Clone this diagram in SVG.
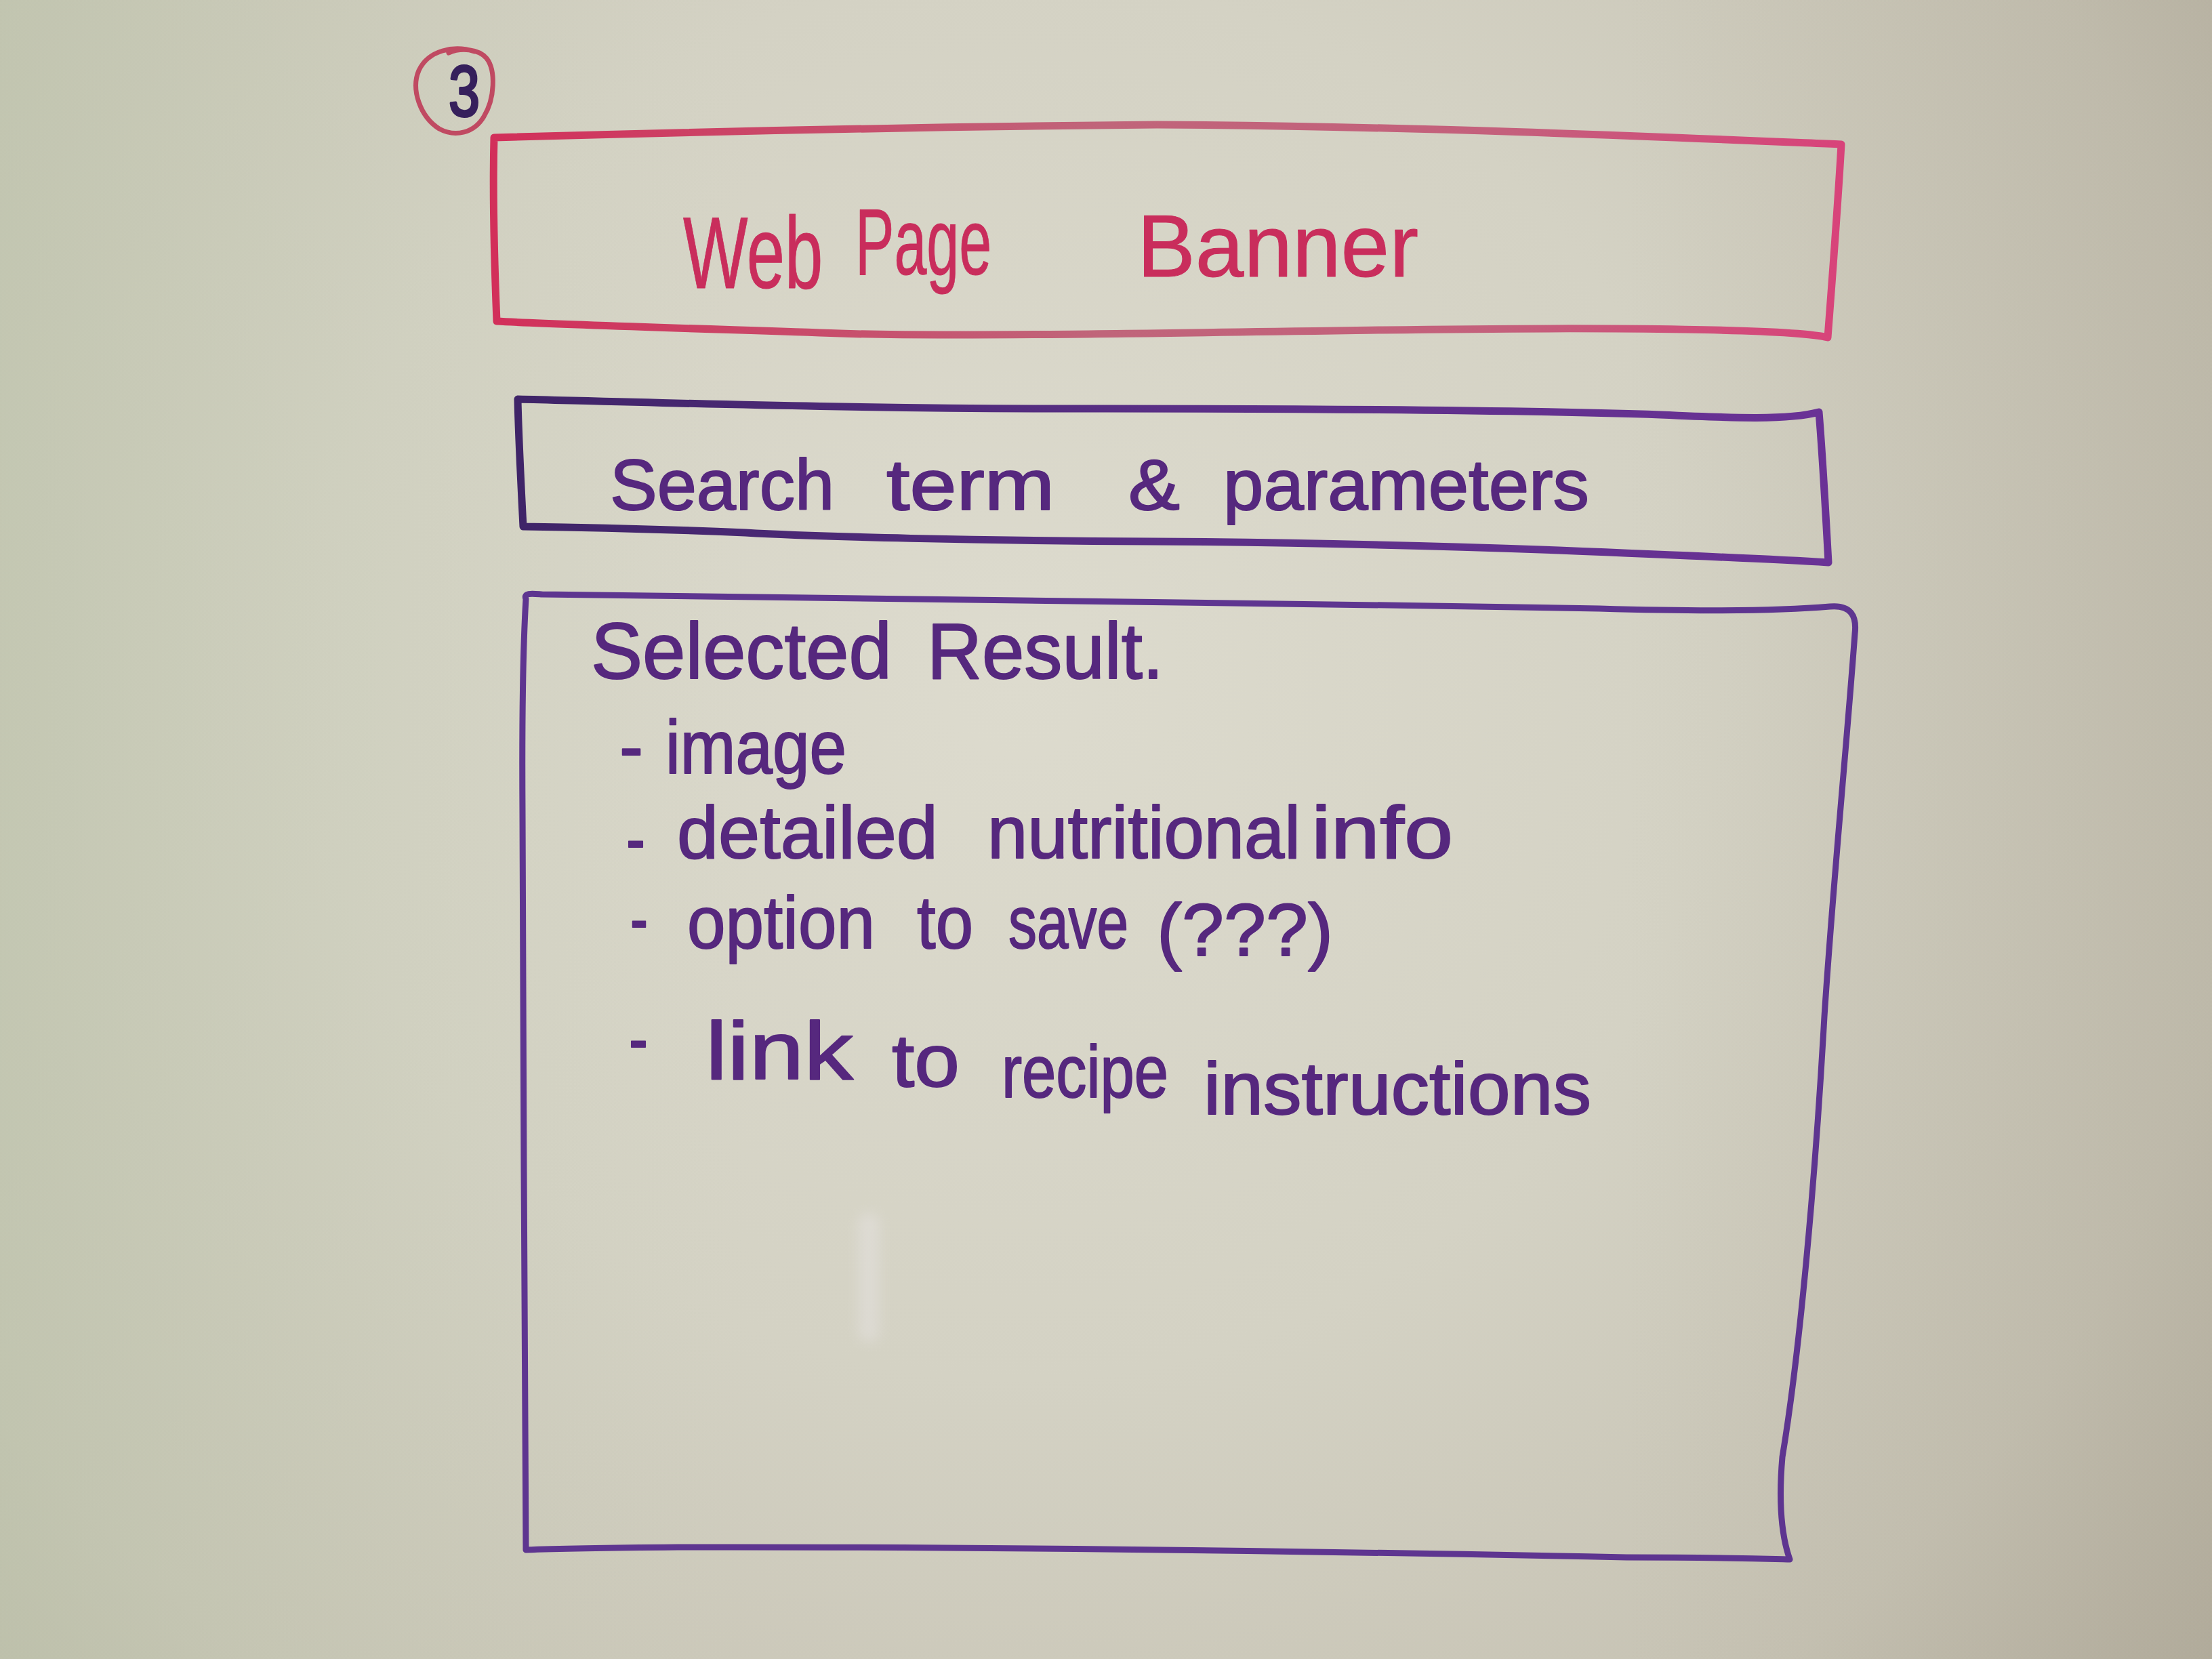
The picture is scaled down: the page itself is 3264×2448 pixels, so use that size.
<svg xmlns="http://www.w3.org/2000/svg" width="3264" height="2448" viewBox="0 0 3264 2448">
  <defs>
    <radialGradient id="boardLight" cx="1500" cy="1000" r="2300" gradientUnits="userSpaceOnUse">
      <stop offset="0" stop-color="#dddbce"/>
      <stop offset="0.45" stop-color="#d4d2c4"/>
      <stop offset="0.8" stop-color="#c6c2b3"/>
      <stop offset="1" stop-color="#b5af9f"/>
    </radialGradient>
    <linearGradient id="boardLeft" x1="0" y1="0" x2="1100" y2="0" gradientUnits="userSpaceOnUse">
      <stop offset="0" stop-color="#bec6ad" stop-opacity="0.6"/>
      <stop offset="1" stop-color="#cdd1bd" stop-opacity="0"/>
    </linearGradient>
    <linearGradient id="boardRight" x1="2400" y1="0" x2="3264" y2="0" gradientUnits="userSpaceOnUse">
      <stop offset="0" stop-color="#a39c8b" stop-opacity="0"/>
      <stop offset="1" stop-color="#a39c8b" stop-opacity="0.25"/>
    </linearGradient>
    <linearGradient id="bannerInk" x1="729" y1="0" x2="2717" y2="0" gradientUnits="userSpaceOnUse">
      <stop offset="0" stop-color="#d22f5a"/>
      <stop offset="0.45" stop-color="#c0657a"/>
      <stop offset="0.75" stop-color="#c4607c"/>
      <stop offset="1" stop-color="#d8437a"/>
    </linearGradient>
    <linearGradient id="searchInk" x1="764" y1="0" x2="2698" y2="0" gradientUnits="userSpaceOnUse">
      <stop offset="0" stop-color="#3f2468"/>
      <stop offset="0.5" stop-color="#5a2f86"/>
      <stop offset="1" stop-color="#6a3296"/>
    </linearGradient>
    <filter id="glareBlur" x="-50%" y="-20%" width="200%" height="140%">
      <feGaussianBlur stdDeviation="9"/>
    </filter>
    <style>
      .box { fill: none; stroke-linecap: round; stroke-linejoin: round; }
      .hand { font-family: "Liberation Sans", "DejaVu Sans", sans-serif; stroke-linejoin: round; stroke-linecap: round; }
      .red { fill: #c92d5c; stroke: #c92d5c; stroke-width: 1; }
      .ink { fill: #56287e; stroke: #56287e; stroke-width: 2; }
    </style>
  </defs>

  <!-- whiteboard surface -->
  <rect x="0" y="0" width="3264" height="2448" fill="url(#boardLight)"/>
  <rect x="0" y="0" width="3264" height="2448" fill="url(#boardLeft)"/>
  <rect x="0" y="0" width="3264" height="2448" fill="url(#boardRight)"/>
  <rect x="1266" y="1790" width="32" height="190" rx="14" fill="#ece8ec" opacity="0.35" filter="url(#glareBlur)"/>

  <!-- page number badge -->
  <g id="badge">
    <path class="box" d="M 700 76 C 670 66 632 74 618 104 C 606 132 620 172 648 190 C 672 203 700 196 714 172 C 730 146 732 104 718 86 C 706 72 680 70 662 78" stroke="#c04a62" stroke-width="7"/>
    <text class="hand" x="662" y="171" font-size="106" textLength="46" lengthAdjust="spacingAndGlyphs" fill="#36205c" stroke="#36205c" stroke-width="4">3</text>
  </g>

  <!-- banner: narrow hand lettering is made by squeezing the glyphs horizontally -->
  <g id="banner">
    <path class="box" d="M 729 203 C 900 198 1300 188 1707 184 C 2100 186 2500 204 2717 213 C 2712 300 2703 420 2697 498 C 2650 486 2400 482 2040 487 C 1700 492 1380 497 1240 492 C 1000 484 800 478 733 474 C 730 400 727 280 729 203 Z" stroke="url(#bannerInk)" stroke-width="11"/>
    <text class="hand red" font-size="150" transform="translate(1008 425) scale(0.675 1)" x="0" y="0">Web</text>
    <text class="hand red" font-size="140" transform="translate(1262 405) scale(0.615 1)" x="0" y="0">Page</text>
    <text class="hand red" font-size="130" x="1678" y="408" textLength="415" lengthAdjust="spacingAndGlyphs">Banner</text>
  </g>

  <!-- search bar -->
  <g id="search">
    <path class="box" d="M 764 589 C 1000 595 1300 604 1633 603 C 1950 603 2270 606 2450 612 C 2560 617 2640 620 2684 608 C 2690 680 2694 760 2698 830 C 2600 824 2450 818 2300 812 C 2100 805 1900 800 1700 799 C 1450 798 1200 792 1100 786 C 980 781 850 778 772 777 C 768 700 765 640 764 589 Z" stroke="url(#searchInk)" stroke-width="11"/>
    <text class="hand ink" font-size="105" y="752">
      <tspan x="900" textLength="331" lengthAdjust="spacingAndGlyphs">Search</tspan>
      <tspan x="1308" textLength="248" lengthAdjust="spacingAndGlyphs">term</tspan>
      <tspan x="1665" textLength="76" lengthAdjust="spacingAndGlyphs">&amp;</tspan>
      <tspan x="1805" textLength="540" lengthAdjust="spacingAndGlyphs">parameters</tspan>
    </text>
  </g>

  <!-- selected result panel -->
  <g id="result">
    <path class="box" d="M 776 884 C 772 874 786 876 800 877 C 1200 884 1800 888 2360 898 C 2500 902 2620 902 2700 895 C 2732 892 2740 910 2737 935 C 2725 1100 2705 1300 2692 1500 C 2678 1750 2655 2000 2630 2150 C 2624 2220 2630 2270 2641 2301 C 2600 2300 2530 2298 2400 2298 C 2000 2290 1500 2282 1000 2283 C 880 2284 800 2286 776 2287 C 774 2000 772 1500 771 1200 C 770 1050 772 950 776 884 Z" stroke="#5e3590" stroke-width="9"/>
    <text class="hand ink" font-size="116" y="1001">
      <tspan x="872" textLength="444" lengthAdjust="spacingAndGlyphs">Selected</tspan>
      <tspan x="1368" textLength="349" lengthAdjust="spacingAndGlyphs">Result.</tspan>
    </text>
    <text class="hand ink" font-size="112">
      <tspan x="914" y="1139" textLength="35" lengthAdjust="spacingAndGlyphs">-</tspan>
      <tspan x="982" y="1141" textLength="267" lengthAdjust="spacingAndGlyphs">image</tspan>
    </text>
    <text class="hand ink" font-size="110">
      <tspan x="924" y="1275" textLength="28" lengthAdjust="spacingAndGlyphs">-</tspan>
      <tspan x="999" y="1266" textLength="385" lengthAdjust="spacingAndGlyphs">detailed</tspan>
      <tspan x="1457" y="1266" textLength="462" lengthAdjust="spacingAndGlyphs">nutritional</tspan>
      <tspan x="1935" y="1266" textLength="209" lengthAdjust="spacingAndGlyphs">info</tspan>
    </text>
    <text class="hand ink" font-size="110">
      <tspan x="930" y="1393" textLength="26" lengthAdjust="spacingAndGlyphs">-</tspan>
      <tspan x="1014" y="1399" textLength="277" lengthAdjust="spacingAndGlyphs">option</tspan>
      <tspan x="1353" y="1399" textLength="83" lengthAdjust="spacingAndGlyphs">to</tspan>
      <tspan x="1488" y="1399" textLength="177" lengthAdjust="spacingAndGlyphs">save</tspan>
      <tspan x="1707" y="1410" textLength="260" lengthAdjust="spacingAndGlyphs">(???)</tspan>
    </text>
    <text class="hand ink" font-size="110">
      <tspan x="928" y="1570" textLength="28" lengthAdjust="spacingAndGlyphs">-</tspan>
      <tspan x="1041" y="1592" font-size="120" textLength="218" lengthAdjust="spacingAndGlyphs">link</tspan>
      <tspan x="1316" y="1603" textLength="100" lengthAdjust="spacingAndGlyphs">to</tspan>
      <tspan x="1478" y="1619" textLength="246" lengthAdjust="spacingAndGlyphs">recipe</tspan>
      <tspan x="1776" y="1644" textLength="572" lengthAdjust="spacingAndGlyphs">instructions</tspan>
    </text>
  </g>

  <!-- no arrows or links between the boxes -->
  <g id="connectors"/>
</svg>
